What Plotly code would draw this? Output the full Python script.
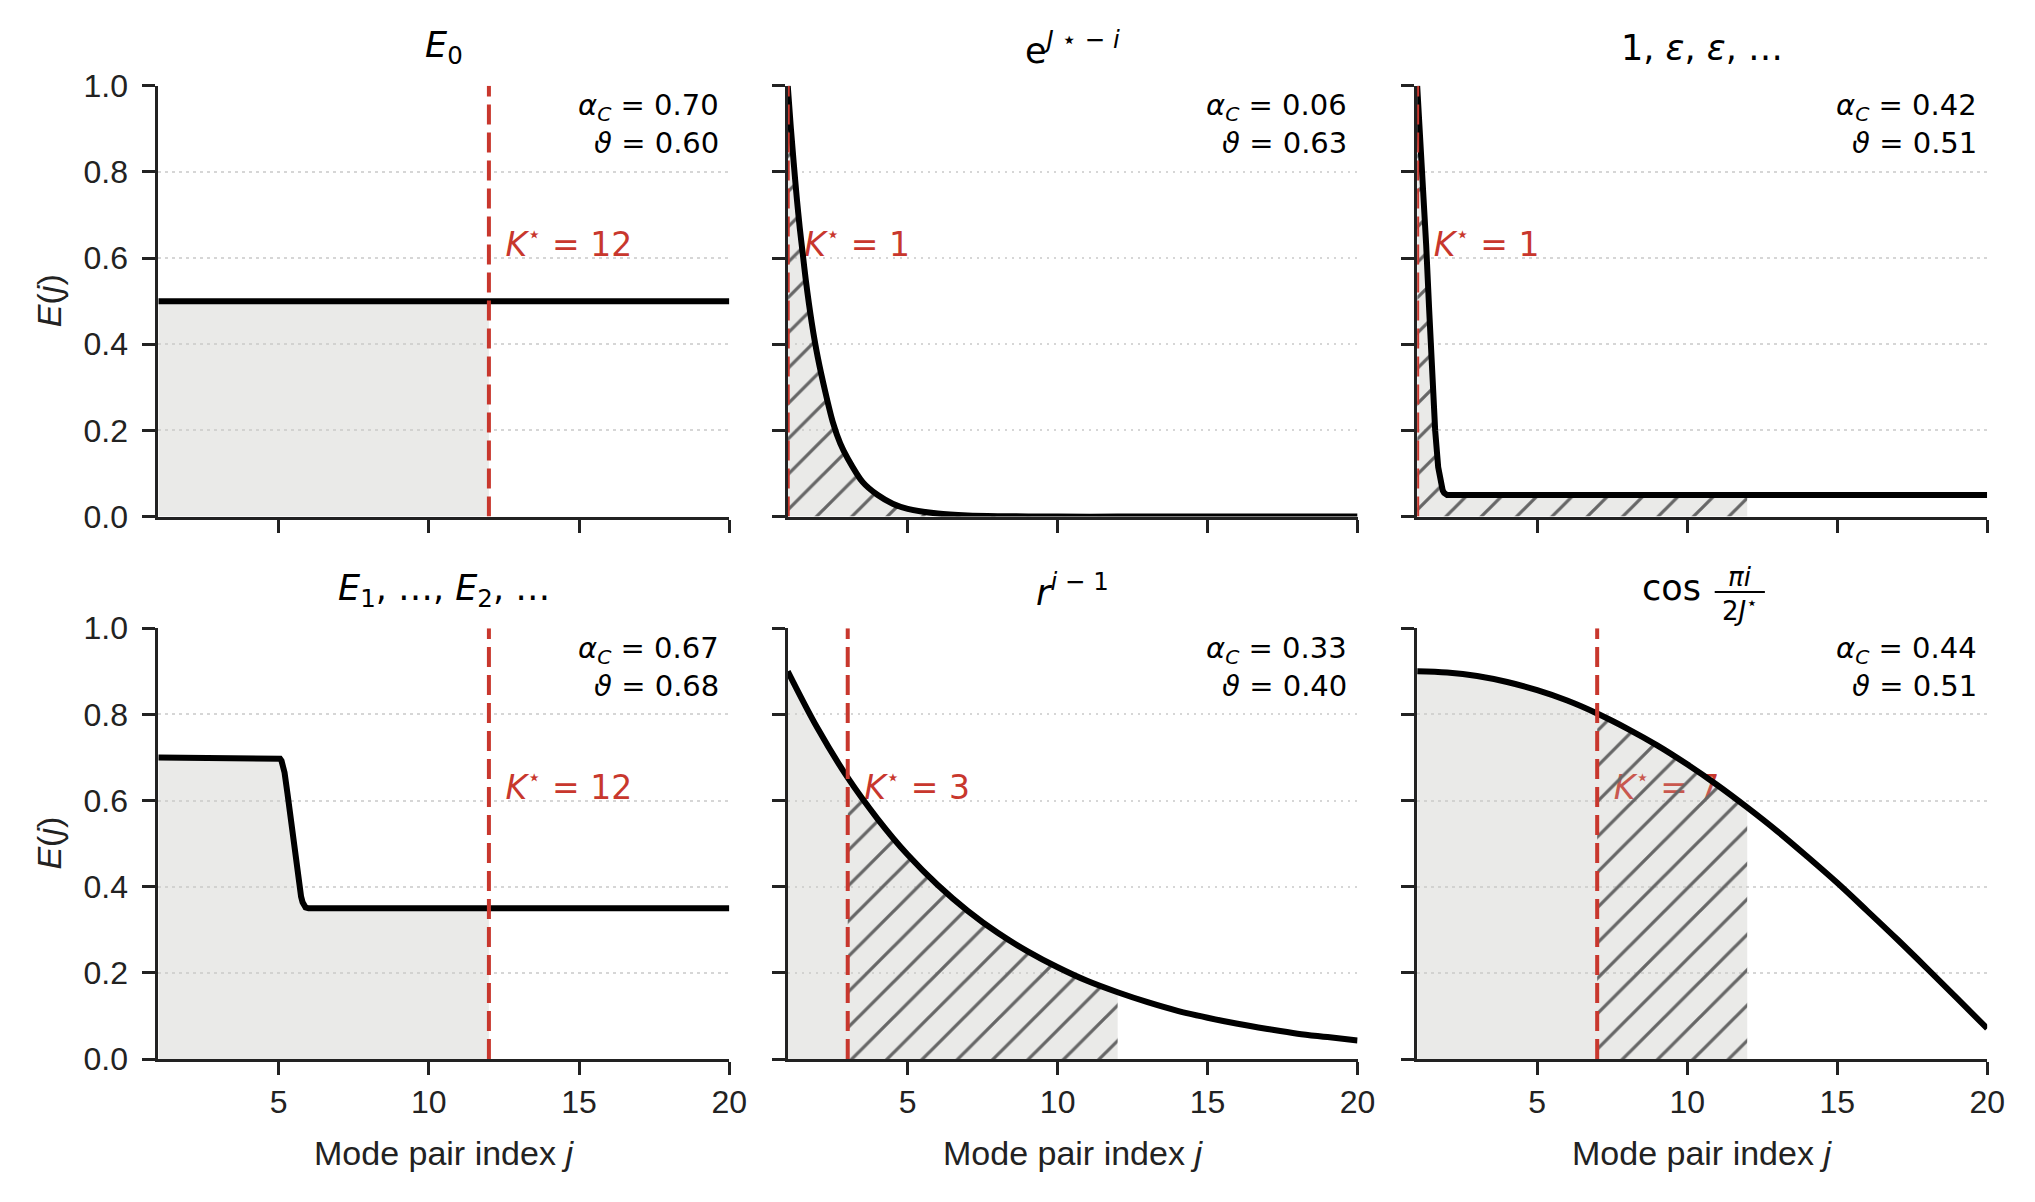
import plotly.graph_objects as go

# ------------------------------------------------------------------ data
panel_titles = [
    "<i>E</i><sub>0</sub>",
    "e<sup><i>J</i> ⋆ − <i>i</i></sup>",
    "1, <i>ε</i>, <i>ε</i>, …",
    "<i>E</i><sub>1</sub>, …, <i>E</i><sub>2</sub>, …",
    "<i>r</i><sup><i>i</i> − 1</sup>",
    None,  # cos(pi i / 2J*) drawn as a fraction below
]
cos_word = "cos"
cos_num = "<i>πi</i>"
cos_den = "2<i>J</i><sup>⋆</sup>"

K_star = [12, 1, 1, 12, 3, 7]
hatch_end = 12
alpha_C = [0.70, 0.06, 0.42, 0.67, 0.33, 0.44]
theta = [0.60, 0.63, 0.51, 0.68, 0.40, 0.51]

x_ticks = [5, 10, 15, 20]
y_ticks = [0.0, 0.2, 0.4, 0.6, 0.8, 1.0]
y_ticktext = ["0.0", "0.2", "0.4", "0.6", "0.8", "1.0"]
x_title = "Mode pair index <i>j</i>"
y_title = "<i>E</i>(<i>j</i>)"

# curve E0 (constant)
j_e0 = [1, 12, 20]
E_e0 = [0.5, 0.5, 0.5]

# curve e^{J*-i}
j_exp = [1, 1.1, 1.2, 1.3, 1.4, 1.5, 1.6, 1.8, 2.0, 2.25, 2.5, 2.75, 3.0,
         3.5, 4.0, 4.5, 5.0, 6.0, 7.0, 8.0, 10.0, 12.0, 20.0]
E_exp = [1.0, 0.905, 0.82, 0.74, 0.67, 0.61, 0.55, 0.45, 0.37, 0.29, 0.22,
         0.17, 0.135, 0.08, 0.05, 0.03, 0.018, 0.007, 0.0025, 0.001, 0.0,
         0.0, 0.0]

# curve 1, eps, eps, ...
j_eps = [1, 1.1, 1.2, 1.3, 1.4, 1.5, 1.6, 1.7, 1.75, 1.8, 1.85, 1.9, 1.95,
         2.0, 12, 20]
E_eps = [1.0, 0.89, 0.77, 0.63, 0.48, 0.33, 0.2, 0.115, 0.09, 0.072,
         0.061, 0.055, 0.052, 0.05, 0.05, 0.05]

# curve E1,...,E2,...
j_step = [1, 4.95, 5.0, 5.05, 5.1, 5.15, 5.2, 5.3, 5.4, 5.5, 5.6, 5.7,
          5.75, 5.8, 5.85, 5.9, 5.95, 6.0, 12, 20]
E_step = [0.7, 0.70, 0.699, 0.697, 0.692, 0.682, 0.665, 0.615, 0.56, 0.50,
          0.44, 0.395, 0.377, 0.364, 0.356, 0.352, 0.351, 0.35, 0.35, 0.35]

# curve r^{i-1}
j_geo = list(range(1, 21))
E_geo = [0.90, 0.767, 0.653, 0.557, 0.474, 0.404, 0.344, 0.293, 0.250,
         0.213, 0.181, 0.155, 0.132, 0.112, 0.096, 0.082, 0.070, 0.059,
         0.051, 0.043]

# curve cos(pi i / 2J*)
j_cos = list(range(1, 21))
E_cos = [0.900, 0.897, 0.889, 0.875, 0.856, 0.832, 0.802, 0.767, 0.728,
         0.684, 0.636, 0.584, 0.529, 0.470, 0.409, 0.344, 0.278, 0.210,
         0.141, 0.071]

curves = [(j_e0, E_e0), (j_exp, E_exp), (j_eps, E_eps),
          (j_step, E_step), (j_geo, E_geo), (j_cos, E_cos)]

# ------------------------------------------------------------------ style
RED = "#c8372d"
AX = "#222222"
FILL = "rgba(205,205,200,0.42)"
FILL_UNDER = "rgba(205,205,200,0.25)"
FILL_OVER = "rgba(205,205,200,0.22)"
MATH = "DejaVu Sans"
SANS = "Liberation Sans, Arial, sans-serif"
W, H = 2035, 1202
XD = [(0.0778, 0.3584), (0.3871, 0.6671), (0.6964, 0.9765)]
YD = [(0.5702, 0.9287), (0.1189, 0.4774)]
SMOOTH = [0, 0.6, 0, 0, 1.0, 1.0]

fig = go.Figure()
annotations = []
shapes = []
layout_axes = {}

for p in range(6):
    r, c = divmod(p, 3)
    xa = "x" if p == 0 else f"x{p + 1}"
    ya = "y" if p == 0 else f"y{p + 1}"
    js, Es = curves[p]
    K = K_star[p]
    shape = "linear" if SMOOTH[p] == 0 else "spline"
    lshape = dict(shape=shape) if shape == "linear" else dict(
        shape=shape, smoothing=SMOOTH[p])
    common = dict(xaxis=xa, yaxis=ya, showlegend=False, hoverinfo="skip")

    hx = [x for x in js if K <= x <= hatch_end]
    hy = [y for x, y in zip(js, Es) if K <= x <= hatch_end]
    has_hatch = K < hatch_end and len(hx) >= 2

    # base tint of hatched region (under the label)
    if has_hatch:
        fig.add_trace(go.Scatter(
            x=hx, y=hy, mode="lines", line=dict(width=0, **lshape),
            fill="tozeroy", fillcolor=FILL_UNDER, **common))

    # K* label (under the hatch, as in the reference)
    fig.add_trace(go.Scatter(
        x=[K + 0.55], y=[0.585], mode="text",
        text=[f"<i>K</i><sup>⋆</sup> = {K}"], textposition="top right",
        textfont=dict(family=MATH, size=33, color=RED),
        cliponaxis=False, **common))

    # solid fill 1..K*
    sx = [x for x in js if x <= K]
    sy = [y for x, y in zip(js, Es) if x <= K]
    if len(sx) >= 2:
        fig.add_trace(go.Scatter(
            x=sx, y=sy, mode="lines", line=dict(width=0, **lshape),
            fill="tozeroy", fillcolor=FILL, **common))

    # hatched fill K*..12
    if has_hatch:
        fig.add_trace(go.Scatter(
            x=hx, y=hy, mode="lines", line=dict(width=0, **lshape),
            fill="tozeroy", fillcolor=FILL_OVER,
            fillpattern=dict(shape="/", fgcolor="#666666", fgopacity=1,
                             size=25, solidity=0.13, fillmode="overlay"),
            **common))

    # curve
    fig.add_trace(go.Scatter(
        x=js, y=Es, mode="lines",
        line=dict(color="black", width=6, **lshape), **common))

    # K* vertical dashed line
    fig.add_trace(go.Scatter(
        x=[K, K], y=[y_ticks[0], y_ticks[-1]], mode="lines",
        line=dict(color=RED, width=4, dash="20px,8px"), **common))

    # axes
    xname = "xaxis" if p == 0 else f"xaxis{p + 1}"
    yname = "yaxis" if p == 0 else f"yaxis{p + 1}"
    layout_axes[xname] = dict(
        domain=list(XD[c]), anchor=ya, range=[1, 20], tickvals=x_ticks,
        showticklabels=(r == 1), ticks="outside", ticklen=13, tickwidth=3,
        tickcolor=AX, showline=True, linewidth=3, linecolor=AX,
        showgrid=False, zeroline=False, ticklabelstandoff=0,
        automargin=False,
        tickfont=dict(family=SANS, size=32, color=AX))
    layout_axes[yname] = dict(
        domain=list(YD[r]), anchor=xa, range=[0, 1], tickvals=y_ticks,
        ticktext=y_ticktext, showticklabels=(c == 0), ticks="outside",
        ticklen=13, tickwidth=3, tickcolor=AX, showline=True, linewidth=3,
        linecolor=AX, showgrid=True, gridcolor="#d6d6d6", gridwidth=1.6,
        griddash="2.5px,4.5px", zeroline=False, ticklabelstandoff=8,
        automargin=False,
        tickfont=dict(family=SANS, size=32, color=AX))

    # alpha / theta annotations
    annotations.append(dict(
        text=f"<i>α</i><sub><i>C</i></sub> = {alpha_C[p]:.2f}",
        xref=f"{xa} domain", yref=f"{ya} domain", x=0.985, y=0.95,
        xanchor="right", yanchor="middle", showarrow=False,
        font=dict(family=MATH, size=29, color="black")))
    annotations.append(dict(
        text=f"<i>ϑ</i> = {theta[p]:.2f}",
        xref=f"{xa} domain", yref=f"{ya} domain", x=0.985, y=0.866,
        xanchor="right", yanchor="middle", showarrow=False,
        font=dict(family=MATH, size=29, color="black")))

    # panel titles
    if panel_titles[p] is not None:
        annotations.append(dict(
            text=panel_titles[p], xref=f"{xa} domain", yref=f"{ya} domain",
            x=0.5, y=1.088, xanchor="center", yanchor="middle",
            showarrow=False, font=dict(family=MATH, size=35, color="black")))
    else:
        annotations.append(dict(
            text=cos_word, xref=f"{xa} domain", yref=f"{ya} domain",
            x=0.446, y=1.094, xanchor="center", yanchor="middle",
            showarrow=False, font=dict(family=MATH, size=35, color="black")))
        annotations.append(dict(
            text=cos_num, xref=f"{xa} domain", yref=f"{ya} domain",
            x=0.567, y=1.118, xanchor="center", yanchor="middle",
            showarrow=False, font=dict(family=MATH, size=26, color="black")))
        annotations.append(dict(
            text=cos_den, xref=f"{xa} domain", yref=f"{ya} domain",
            x=0.567, y=1.045, xanchor="center", yanchor="middle",
            showarrow=False, font=dict(family=MATH, size=26, color="black")))
        shapes.append(dict(
            type="line", xref=f"{xa} domain", yref=f"{ya} domain",
            x0=0.522, x1=0.610, y0=1.084, y1=1.084,
            line=dict(color="black", width=2)))

    # axis titles
    if r == 1:
        annotations.append(dict(
            text=x_title, xref=f"{xa} domain", yref=f"{ya} domain",
            x=0.5, y=-0.219, xanchor="center", yanchor="middle",
            showarrow=False, font=dict(family=SANS, size=34, color=AX)))
    if c == 0:
        annotations.append(dict(
            text=y_title, xref="paper", yref=f"{ya} domain",
            x=49 / W, y=0.5, xanchor="center", yanchor="middle",
            textangle=-90, showarrow=False,
            font=dict(family=SANS, size=34, color=AX)))

fig.update_layout(
    width=W, height=H,
    margin=dict(l=0, r=0, t=0, b=0, pad=0, autoexpand=False),
    paper_bgcolor="white", plot_bgcolor="white",
    annotations=annotations, shapes=shapes, **layout_axes)

fig.write_html("out.html")
